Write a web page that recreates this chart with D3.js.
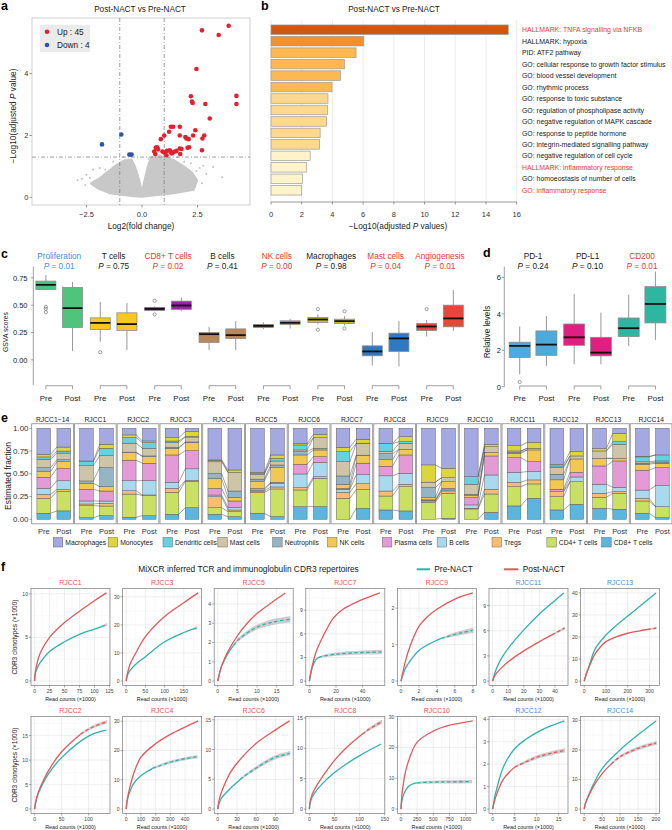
<!DOCTYPE html>
<html><head><meta charset="utf-8">
<script src="https://d3js.org/d3.v7.min.js"></script>
<style>html,body{margin:0;padding:0;background:#fff;}svg{display:block;}</style>
</head><body>
<svg id="fig" width="672" height="830" xmlns="http://www.w3.org/2000/svg"></svg>
<script>
// ================= DATA =================
// --- a: volcano plot ---
const volcanoUp = [[2.7,5.4],[3.9,5.55],[3.45,5.25],[2.45,4.15],[2.2,3.27],[2.25,3.1],[2.28,3.05],[2.85,3.02],[4.25,3.28],[4.25,3.02],[3.05,2.55],
 [1.3,2.28],[1.4,2.28],[1.7,2.28],[1.22,2.12],[2.4,2.17],[1.0,2.0],[0.85,1.88],[1.7,2.0],[1.95,1.95],[2.0,1.9],[2.1,1.88],[2.3,2.0],[2.72,1.9],[2.8,2.0],
 [0.62,1.6],[0.68,1.62],[0.72,1.55],[0.55,1.48],[0.6,1.4],[0.92,1.48],[1.0,1.45],[1.12,1.5],[1.25,1.52],[1.3,1.45],[1.35,1.42],[1.45,1.47],[1.7,1.58],[1.78,1.56],[1.72,1.4],[2.05,1.6],[2.12,1.62],[2.7,1.52],[1.1,1.36],[1.55,1.5]];
const volcanoDown = [[-1.8,1.71],[-0.93,2.03],[-0.57,1.38],[-0.47,1.38]];
const volcanoNSOutline = [[0,0.02],[-0.38,0.03],[-1.44,0.13],[-2.0,0.29],[-2.3,0.45],[-1.87,0.63],[-1.59,0.8],[-1.14,1.05],[-0.77,1.2],[-0.47,1.22],[-0.32,1.0],[-0.12,0.55],[0,0.15],[0.11,0.55],[0.3,1.1],[0.45,1.3],[0.98,1.32],[1.43,1.2],[1.88,1.0],[2.25,0.8],[2.48,0.55],[2.33,0.24],[1.43,0.13],[0.2,0.03]];
const volcanoNSScatter = [[-2.5,0.73],[-2.7,0.6],[-2.2,0.9],[-1.9,0.95],[-0.5,1.35],[0.55,1.35],[1.05,1.38],[2.6,0.95],[2.75,1.02],[3.2,0.98],[3.6,0.65],[2.9,0.75],[-2.9,0.55],[1.6,1.3],[2.2,1.1],[-1.3,1.15],[0.8,1.36],[-2.55,0.4],[2.7,0.45],[-2.35,0.62],[-1.65,0.9],[1.9,1.15],[2.45,0.85],[-0.85,1.3],[0.3,1.25]];
const volcanoFCCut = [-1, 1];
const volcanoPCut = 1.3;
const volcanoXTicks = [-2.5, 0, 2.5];
const volcanoYTicks = [0, 2, 4];

// --- b: enrichment ---
const enrichTerms = ["HALLMARK: TNFA signalling via NFKB","HALLMARK: hypoxia","PID: ATF2 pathway","GO: cellular response to growth factor stimulus","GO: blood vessel development","GO: rhythmic process","GO: response to toxic substance","GO: regulation of phospholipase activity","GO: negative regulation of MAPK cascade","GO: response to peptide hormone","GO: integrin-mediated signalling pathway","GO: negative regulation of cell cycle","HALLMARK: inflammatory response","GO: homoeostasis of number of cells","GO: inflammatory response"];
const enrichValues = [15.45,6.04,5.54,4.78,4.52,3.97,3.71,3.67,3.62,3.2,3.16,2.55,2.3,2.05,2.0];
const enrichHighlight = ["HALLMARK: TNFA signalling via NFKB","HALLMARK: inflammatory response","GO: inflammatory response"];
const enrichTicks = [0,2,4,6,8,10,12,14,16];

// --- c: GSVA scores (whisker low, q1, median, q3, whisker high) ---
const gsvaCategories = ["Proliferation","T cells","CD8+ T cells","B cells","NK cells","Macrophages","Mast cells","Angiogenesis"];
const gsvaP = ["0.01","0.75","0.02","0.41","0.00","0.98","0.04","0.01"];
const gsvaPre = [[0.64,0.644,0.686,0.72,0.775],[0.165,0.278,0.338,0.384,0.53],[0.445,0.452,0.467,0.479,0.49],[0.089,0.159,0.235,0.25,0.302],[0.28,0.296,0.311,0.324,0.342],[0.324,0.342,0.369,0.388,0.415],[-0.052,0.037,0.077,0.128,0.253],[0.214,0.269,0.305,0.333,0.363]];
const gsvaPost = [[0.08,0.296,0.473,0.662,0.713],[0.089,0.269,0.327,0.43,0.52],[0.445,0.461,0.497,0.537,0.571],[0.089,0.195,0.226,0.283,0.354],[0.287,0.324,0.339,0.357,0.375],[0.315,0.333,0.354,0.372,0.4],[-0.061,0.077,0.196,0.244,0.354],[0.265,0.302,0.379,0.5,0.638]];
const gsvaPreOut = [[0.485,0.467,0.436],[0.07],[0.54,0.415],[],[],[0.464,0.275],[],[0.464]];
const gsvaPostOut = [[],[],[],[],[],[0.445,0.287],[],[]];
const gsvaTicks = [0,0.25,0.5,0.75];

// --- d: immune checkpoint levels ---
const immuneGenes = ["PD-1","PD-L1","CD200"];
const immuneP = ["0.24","0.10","0.01"];
const immunePre = [[0.68,1.6,2.24,2.44,3.3],[1.23,2.27,2.71,3.44,5.09],[2.24,2.75,3.21,3.77,5.04]];
const immunePost = [[1.14,1.72,2.31,3.06,3.88],[1.23,1.69,1.87,2.71,4.07],[2.57,3.5,4.54,5.49,6.32]];
const immunePreOut = [[0.26],[],[]];
const immunePostOut = [[],[],[]];
const immuneTicks = [0,2,4,6];

// --- e: estimated fractions (percent; order = cellTypes) ---
const cellTypes = ["Macrophages","Monocytes","Dendritic cells","Mast cells","Neutrophils","NK cells","Plasma cells","B cells","Tregs","CD4+ T cells","CD8+ T cells"];
const samples = ["RJCC1\u221214","RJCC1","RJCC2","RJCC3","RJCC4","RJCC5","RJCC6","RJCC7","RJCC8","RJCC9","RJCC10","RJCC11","RJCC12","RJCC13","RJCC14"];
const fracPre = [
 [28.6,2.9,2.6,9.2,4.4,6.2,12.1,6.6,4.4,16.5,6.6],
 [35.9,0.7,4.4,16.8,2.6,6.6,12.8,3.3,1.8,13.2,1.8],
 [7.3,2.9,6.2,9.9,0.5,8.4,22.7,11,3.7,25.6,2.2],
 [10.3,3.7,1.8,5.1,1.1,7.3,30,6.6,4.4,24.2,5.5],
 [34.8,0.3,1.8,12.8,5.5,11,7.3,1.8,12.1,7.3,5.5],
 [48.7,1.5,0.5,5.5,2.2,8.1,1.8,1.1,1.5,23.1,6.6],
 [16.5,1.8,5.5,1.8,3.7,10.3,10.6,15,2.6,18.3,13.9],
 [20.9,4.8,11,15.8,9.2,4.4,1.1,3.3,6.6,23.1,0],
 [16.5,0.5,8.4,2.6,6.6,7.3,10.6,16.8,5.5,15.4,10.3],
 [40.3,19,0,5.9,11,2.6,0.5,0.7,1.5,18.7,0],
 [53.1,0,8.4,11,1.5,2.2,8.1,3.7,0.7,11.4,0],
 [19,5.9,0,1.3,1.3,4.8,16.1,11,4.8,21.2,14.7],
 [39.6,1.8,1.8,7.3,6.2,10.3,2.6,0,5.5,14.7,10.3],
 [22,2.9,0,8.1,0,8.4,20.1,9.9,4.4,12.1,12.1],
 [31.1,0.5,5.5,1.5,1.1,6.6,22,9.2,2.9,13.6,6.6]];
const fracPost = [
 [20.5,4.4,2.2,7.3,2.2,7.3,13.5,9.5,2.2,21.2,9.2],
 [17.6,4.4,8.1,13.2,20.9,4.8,11,2.6,2.9,10.6,4],
 [13.9,1.8,6.2,8.4,0.7,7.3,19,15.8,0.7,22,4],
 [3.7,5.5,0.5,5.5,0.5,9.2,20.1,12.8,1.1,29.3,12.8],
 [45.8,2.6,0,20.5,7,4,7,2.9,1.8,5.5,2.9],
 [29.3,3.7,2.9,4.4,2.9,16.1,1.1,4,2.2,30.4,2.9],
 [6.6,3.7,0,11.7,1.8,7.3,6.2,15.8,1.8,31.1,13.9],
 [12.1,4.4,0.5,12.8,0.5,8.4,12.8,9.9,6.6,20.9,12.1],
 [9.2,5.5,1.8,6.6,0,6.2,20.1,12.1,2.6,26.7,9.2],
 [44,10.3,0,4.4,0,7.3,1.8,1.1,2.6,27.5,1.1],
 [17.6,2.6,0,6.2,0,4,20.9,15.8,5.1,20.1,7.7],
 [15.4,6.6,0,1.8,0,12.8,11,9.2,4.4,15.8,23.1],
 [25.6,4.8,0,3.3,0,14.7,5.1,5.1,0,24.9,16.5],
 [5.5,9.2,2.9,15.4,0,2.9,28.9,4.8,1.8,17.6,11],
 [29.3,0,6.6,1.3,1.3,4.8,19.8,23.1,0,12.1,1.8]];
const fracTicks = [0,0.25,0.5,0.75,1];

// --- f: rarefaction curves [read counts (x1000), clonotypes (x1000), band half-width] ---
const rarefaction = [
 {sample:"RJCC1", group:"up", pre:[[0,0],[1,0.85],[5,1.6],[10,2.2],[25,3.4],[50,4.5],[75,5.35],[100,5.95],[112,6.25]], preExt:[[112,6.25,0],[120,6.45,0.08]], post:[[0,0],[1,0.9],[5,2.3],[10,3.3],[25,5.0],[50,6.7],[75,8.0],[100,9.2],[120,10.1]], postExt:[], xTicks:[0,25,50,75,100,125], yTicks:[0,5,10]},
 {sample:"RJCC3", group:"up", pre:[[0,0],[2,1.5],[10,3.8],[25,6],[50,8.7],[100,14],[150,17.3],[175,18.6]], preExt:[[175,18.6,0],[183,18.9,0.3]], post:[[0,0],[2,1.8],[10,6],[25,10],[50,15.8],[100,23],[150,27.9],[187,31.4]], postExt:[], xTicks:[0,50,100,150], yTicks:[0,10,20,30]},
 {sample:"RJCC5", group:"up", pre:[[0,0],[0.5,0.45],[1,0.78],[2.5,1.4],[4,1.85]], preExt:[[4,1.85,0],[5,2.1,0.03],[7.5,2.5,0.06],[10,2.8,0.08],[12.5,2.98,0.1],[15,3.1,0.11],[18.3,3.2,0.12]], post:[[0,0],[0.5,0.45],[1,0.8],[2.5,1.5],[5,2.35],[7.5,3.0],[10,3.5],[15,4.25],[17.2,4.57]], postExt:[], xTicks:[0,5,10,15], yTicks:[0,1,2,3,4]},
 {sample:"RJCC7", group:"up", pre:[[0,0],[1,0.9],[2.5,1.9],[5,2.75],[7,3.0]], preExt:[[7,3.0,0],[10,3.15,0.05],[20,3.42,0.1],[30,3.55,0.14],[40,3.63,0.16],[54,3.7,0.18]], post:[[0,0],[1,1.0],[2.5,2.2],[5,3.7],[10,5.6],[18,8.0],[25,9.1],[35,10.0],[45,10.7],[53,11.2]], postExt:[], xTicks:[0,20,40], yTicks:[0,3,6,9]},
 {sample:"RJCC9", group:"up", pre:[[0,0],[0.5,0.35],[1,0.55],[2,0.84],[3,1.0],[4,1.12],[4.5,1.17]], preExt:[[4.5,1.17,0],[6,1.28,0.03],[7,1.34,0.04],[8,1.39,0.05]], post:[[0,0],[0.5,0.55],[1,0.95],[2,1.5],[3,1.78],[4,1.97],[6,2.25],[8,2.42]], postExt:[], xTicks:[0,2,4,6,8], yTicks:[0,1,2]},
 {sample:"RJCC11", group:"down", pre:[[0,0],[1,0.7],[2.5,1.5],[5,2.5],[10,3.9],[20,6.1],[30,8.0],[40,9.6],[45.5,10.5]], preExt:[], post:[[0,0],[1,0.5],[2.5,0.95],[5,1.45],[10,2.3],[20,3.6],[30,4.7],[38,5.5]], postExt:[[38,5.5,0],[46,6.3,0.06]], xTicks:[0,10,20,30,40], yTicks:[0,3,6,9]},
 {sample:"RJCC13", group:"down", pre:[[0,0],[5,1.8],[10,3.5],[25,7.5],[50,14.5],[100,20.9],[150,25.5],[200,29.5],[250,33.5],[330,40]], preExt:[], post:[[0,0],[5,1.7],[10,3.2],[25,7],[50,12.3],[100,17.9],[150,20.2],[200,21.7],[250,22.7],[290,23.4]], postExt:[[290,23.4,0],[330,24,0.2]], xTicks:[0,100,200,300], yTicks:[0,10,20,30,40]},
 {sample:"RJCC2", group:"up", pre:[[0,0],[1,0.75],[2.5,1.6],[5,2.6],[10,4.0],[25,7.1],[50,10.5],[100,14.9],[133,16.1]], preExt:[], post:[[0,0],[1,0.8],[2.5,1.7],[5,2.8],[10,4.3],[25,7.7],[50,11.7],[85,15.3]], postExt:[[85,15.3,0],[100,16.3,0.1],[115,17.1,0.15],[133,17.8,0.2]], xTicks:[0,50,100], yTicks:[0,5,10,15]},
 {sample:"RJCC4", group:"up", pre:[[0,0],[5,2.3],[10,3.5],[25,6],[50,8.7],[100,11.4],[180,13.9]], preExt:[[180,13.9,0],[200,14.3,0.1],[300,16,0.2],[400,17.2,0.25],[479,17.8,0.3]], post:[[0,0],[5,2.5],[10,4],[25,7.5],[50,12],[100,17.7],[200,22.3],[300,25.5],[400,28.0],[488,30.1]], postExt:[], xTicks:[0,100,200,300,400], yTicks:[0,10,20,30]},
 {sample:"RJCC6", group:"up", pre:[[0,0],[1,0.6],[2.5,1.1],[5,1.7],[10,2.4],[20,3.5],[30,4.5],[35,4.95]], preExt:[[35,4.95,0],[40,5.4,0.05],[50,6.2,0.1],[60,6.9,0.14],[75,7.9,0.18],[90,8.7,0.2],[112,9.35,0.24]], post:[[0,0],[1,0.9],[2.5,1.7],[5,2.6],[10,4],[20,6.2],[30,7.7],[60,11.05],[90,13.3],[112,14.8]], postExt:[], xTicks:[0,30,60,90], yTicks:[0,5,10,15]},
 {sample:"RJCC8", group:"up", pre:[[0,0],[1,0.8],[2.5,1.3],[5,1.9],[10,2.6],[25,4.1],[50,6],[75,7.5],[100,8.8],[143,10.7]], preExt:[], post:[[0,0],[1,0.9],[2.5,1.6],[5,2.3],[10,3.2],[25,5.2],[50,8],[75,10.2],[105,12.3]], postExt:[[105,12.3,0],[120,13.2,0.12],[143,14.3,0.2]], xTicks:[0,50,100,150], yTicks:[0,5,10,15]},
 {sample:"RJCC10", group:"up", pre:[[0,0],[10,2.2],[25,3.6],[50,5.2],[100,7.0],[150,7.9],[200,8.3],[250,8.5]], preExt:[[250,8.5,0],[400,8.7,0.2],[600,8.8,0.25],[800,8.85,0.28],[1088,8.9,0.3]], post:[[0,0],[10,3.5],[25,6.5],[50,10],[100,14.5],[250,21.7],[500,25.3],[750,27.2],[1000,28.2],[1110,28.6]], postExt:[], xTicks:[0,250,500,750,1000], yTicks:[0,10,20,30]},
 {sample:"RJCC12", group:"down", pre:[[0,0],[0.5,0.55],[1,0.95],[2.5,1.9],[5,2.69],[7.5,3.1],[10,3.41],[12.5,3.65],[16.3,3.93]], preExt:[], post:[[0,0],[0.5,0.4],[1,0.7],[2.5,1.35],[5,1.87]], postExt:[[5,1.87,0],[7.5,2.1,0.03],[10,2.31,0.04],[12.5,2.45,0.05],[16.3,2.62,0.06]], xTicks:[0,5,10,15], yTicks:[0,1,2,3,4]},
 {sample:"RJCC14", group:"down", pre:[[0,0],[2.5,1.5],[5,2.5],[10,4],[25,8.2],[50,13.7],[100,20],[150,25.1],[200,29.8]], preExt:[], post:[[0,0],[2.5,1.5],[5,2.4],[10,3.8],[25,7.5],[50,12],[75,15.2]], postExt:[[75,15.2,0],[100,17.7,0.2],[150,20.5,0.3],[200,22.3,0.35]], xTicks:[0,50,100,150,200], yTicks:[0,10,20,30]}
];

// ================= DRAWING =================
const svg = d3.select("#fig").style("font-family", '"Liberation Sans", Arial, Helvetica, sans-serif');
const INK = "#1a1a1a", RED_T = "#e8392f", BLUE_T = "#3f8fdc";

// font sizes fitted to the text widths seen in the reference
const meas = svg.append("text").attr("font-size", 10).attr("x", 10).attr("y", 10).attr("opacity", 0);
function fit(str, w) { meas.text(str); const l = meas.node().getComputedTextLength(); return l > 0 ? 10 * w / l : 8; }
const FS = {
  title: fit("Post-NACT vs Pre-NACT", 92),
  axlab: fit("Log2(fold change)", 66.7),
  aylab: fit("\u2212Log10(adjusted P value)", 95),
  aleg: fit("Down : 4", 32.7),
  blab: fit("GO: cellular response to growth factor stimulus", 144),
  bxlab: fit("\u2212Log10(adjusted P values)", 98.3),
  tick: fit("0.75", 14.6),
  ctitle: fit("Proliferation", 44),
  prepost: fit("Post", 16),
  gsva: fit("GSVA scores", 40),
  dlab: fit("Relative levels", 52.7),
  efacet: fit("RJCC1\u221214", 33.3),
  eleg: fit("Macrophages", 41),
  epp: fit("Post", 15),
  efrac: fit("Estimated fraction", 68),
  etick: fit("1.00", 15.5),
  ftitle: fit("MiXCR inferred TCR and immunoglobulin CDR3 repertoires", 221),
  ffacet: fit("RJCC11", 25.7),
  fxlab: fit("Read counts (\u00d71000)", 50.7),
  fylab: fit("CDR3 clonotypes (\u00d71000)", 75),
  ftick: fit("100", 8.5)
};
meas.remove();

function txt(g, x, y, s, o = {}) {
  const t = g.append("text").attr("x", x).attr("y", y).text(s)
    .attr("font-size", o.size || 8).attr("fill", o.fill || INK)
    .attr("text-anchor", o.anchor || "start");
  if (o.weight) t.attr("font-weight", o.weight);
  if (o.rotate) t.attr("transform", `rotate(-90,${x},${y})`);
  return t;
}
function rich(g, x, y, parts, o = {}) {
  const t = g.append("text").attr("x", x).attr("y", y)
    .attr("font-size", o.size || 8).attr("fill", o.fill || INK)
    .attr("text-anchor", o.anchor || "start");
  if (o.rotate) t.attr("transform", `rotate(-90,${x},${y})`);
  parts.forEach(p => { const s = t.append("tspan").text(p[0]); if (p[1]) s.attr("font-style", "italic"); });
  return t;
}
const minus = v => String(v).replace("-", "\u2212");

// panel letters
[["a",1,10],["b",261,10],["c",1,258],["d",483,257],["e",1,422],["f",1,571]].forEach(d => txt(svg, d[1], d[2], d[0], {size: 12.5, weight: "bold", fill: "#000"}));

// ---------- a ----------
(function () {
  const g = svg.append("g");
  const L = 32, R = 250, T = 18, B = 205;
  const x = d3.scaleLinear().domain([-4.95, 4.86]).range([L, R]);
  const y = d3.scaleLinear().domain([-0.25, 5.8]).range([B, T]);
  g.append("rect").attr("x", L).attr("y", T).attr("width", R - L).attr("height", B - T).attr("fill", "#fff").attr("stroke", "#c4c4c4").attr("stroke-width", 0.8);
  g.append("path").datum(volcanoNSOutline)
    .attr("d", d3.line().x(d => x(d[0])).y(d => y(d[1])).curve(d3.curveLinearClosed))
    .attr("fill", "#c8c8c8").attr("stroke", "#c8c8c8").attr("stroke-width", 2).attr("stroke-linejoin", "round");
  g.selectAll(null).data(volcanoNSScatter).join("circle").attr("cx", d => x(d[0])).attr("cy", d => y(d[1])).attr("r", 1).attr("fill", "#c2c2c2");
  volcanoFCCut.forEach(v => g.append("line").attr("x1", x(v)).attr("x2", x(v)).attr("y1", T).attr("y2", B)
    .attr("stroke", "#777").attr("stroke-width", 0.7).attr("stroke-dasharray", "4,2,1,2"));
  g.append("line").attr("x1", L).attr("x2", R).attr("y1", y(volcanoPCut)).attr("y2", y(volcanoPCut))
    .attr("stroke", "#777").attr("stroke-width", 0.7).attr("stroke-dasharray", "4,2,1,2");
  g.selectAll(null).data(volcanoDown).join("circle").attr("cx", d => x(d[0])).attr("cy", d => y(d[1])).attr("r", 2.3).attr("fill", "#2a55a8");
  g.selectAll(null).data(volcanoUp).join("circle").attr("cx", d => x(d[0])).attr("cy", d => y(d[1])).attr("r", 2.3).attr("fill", "#e3202e");
  // legend
  g.append("rect").attr("x", 40).attr("y", 25).attr("width", 50).attr("height", 27).attr("fill", "#ebebeb");
  g.append("circle").attr("cx", 47).attr("cy", 31.7).attr("r", 2.3).attr("fill", "#e3202e");
  g.append("circle").attr("cx", 47).attr("cy", 45).attr("r", 2.3).attr("fill", "#2a55a8");
  txt(g, 57, 34.6, `Up : ${volcanoUp.length}`, {size: FS.aleg});
  txt(g, 57, 47.9, `Down : ${volcanoDown.length}`, {size: FS.aleg});
  // axes
  volcanoXTicks.forEach(t => {
    g.append("line").attr("x1", x(t)).attr("x2", x(t)).attr("y1", B).attr("y2", B + 2.5).attr("stroke", "#555").attr("stroke-width", 0.6);
    txt(g, x(t), 217, minus(t.toFixed(1)), {size: FS.tick, anchor: "middle", fill: "#333"});
  });
  volcanoYTicks.forEach(t => {
    g.append("line").attr("x1", L - 2.5).attr("x2", L).attr("y1", y(t)).attr("y2", y(t)).attr("stroke", "#555").attr("stroke-width", 0.6);
    txt(g, 28.5, y(t) + 2.8, t, {size: FS.tick, anchor: "end", fill: "#333"});
  });
  txt(g, 140, 12, "Post-NACT vs Pre-NACT", {size: FS.title, anchor: "middle"});
  txt(g, 141, 229, "Log2(fold change)", {size: FS.axlab, anchor: "middle"});
  rich(g, 15.5, 116, [["\u2212Log10(adjusted "], ["P", true], [" value)"]], {size: FS.aylab, anchor: "middle", rotate: true});
})();

// ---------- b ----------
(function () {
  const g = svg.append("g");
  const x = d3.scaleLinear().domain([0, 16]).range([271, 516.7]);
  const y = d3.scaleBand().domain(enrichTerms).range([23, 197]).padding(0.17);
  const col = d3.scaleThreshold().domain([2.9, 3.85, 5.8, 10]).range(["#fff4c9", "#fed98d", "#fdb852", "#f48f2b", "#d4550c"]);
  enrichTicks.forEach(t => g.append("line").attr("x1", x(t)).attr("x2", x(t)).attr("y1", 20).attr("y2", 202).attr("stroke", "#e3e3e3").attr("stroke-width", 0.7));
  g.selectAll(null).data(enrichTerms).join("rect")
    .attr("x", x(0)).attr("y", d => y(d)).attr("height", y.bandwidth())
    .attr("width", (d, i) => x(enrichValues[i]) - x(0))
    .attr("fill", (d, i) => col(enrichValues[i])).attr("stroke", "#9c9c9c").attr("stroke-width", 0.7);
  g.append("line").attr("x1", x(0)).attr("x2", x(16)).attr("y1", 202).attr("y2", 202).attr("stroke", "#555").attr("stroke-width", 0.6);
  enrichTicks.forEach(t => {
    g.append("line").attr("x1", x(t)).attr("x2", x(t)).attr("y1", 202).attr("y2", 204.5).attr("stroke", "#555").attr("stroke-width", 0.6);
    txt(g, x(t), 217, t, {size: FS.tick, anchor: "middle", fill: "#333"});
  });
  enrichTerms.forEach(t => txt(g, 522, y(t) + y.bandwidth() / 2 + 2.6, t, {size: FS.blab, fill: enrichHighlight.includes(t) ? "#ec3b32" : INK}));
  txt(g, 394, 12, "Post-NACT vs Pre-NACT", {size: FS.title, anchor: "middle"});
  rich(g, 398, 229, [["\u2212Log10(adjusted "], ["P", true], [" values)"]], {size: FS.bxlab, anchor: "middle"});
})();

// ---------- box helper ----------
function drawBox(g, cx, w, s, outs, y, fill) {
  const st = "#8c8c8c";
  g.append("line").attr("x1", cx).attr("x2", cx).attr("y1", y(s[0])).attr("y2", y(s[1])).attr("stroke", st).attr("stroke-width", 0.9);
  g.append("line").attr("x1", cx).attr("x2", cx).attr("y1", y(s[3])).attr("y2", y(s[4])).attr("stroke", st).attr("stroke-width", 0.9);
  g.append("rect").attr("x", cx - w / 2).attr("y", y(s[3])).attr("width", w).attr("height", Math.max(0.5, y(s[1]) - y(s[3])))
    .attr("fill", fill).attr("stroke", st).attr("stroke-width", 0.8);
  g.append("line").attr("x1", cx - w / 2).attr("x2", cx + w / 2).attr("y1", y(s[2])).attr("y2", y(s[2])).attr("stroke", "#111").attr("stroke-width", 1.8);
  outs.forEach(o => g.append("circle").attr("cx", cx).attr("cy", y(o)).attr("r", 1.6).attr("fill", "none").attr("stroke", "#666").attr("stroke-width", 0.6));
}
function boxPanel(cfg) {
  const g = svg.append("g");
  const outer = d3.scaleBand().domain(cfg.cats).range([cfg.x0, cfg.x0 + cfg.step * cfg.cats.length]);
  const inner = d3.scalePoint().domain(["Pre", "Post"]).range([0, outer.step()]).padding(0.52);
  const y = cfg.y;
  g.append("line").attr("x1", cfg.axisX).attr("x2", cfg.axisX).attr("y1", cfg.axisTop).attr("y2", cfg.axisBottom).attr("stroke", "#777").attr("stroke-width", 0.7);
  cfg.ticks.forEach(t => {
    g.append("line").attr("x1", cfg.axisX - 2.5).attr("x2", cfg.axisX).attr("y1", y(t)).attr("y2", y(t)).attr("stroke", "#777").attr("stroke-width", 0.7);
    txt(g, cfg.tickX, y(t) + 2.8, cfg.fmt(t), {size: FS.tick, anchor: "end", fill: "#222"});
  });
  txt(g, cfg.labelX, cfg.labelY, cfg.label, {size: cfg.labelSize, anchor: "middle", rotate: true});
  cfg.cats.forEach((c, i) => {
    const xp = outer(c) + inner("Pre"), xq = outer(c) + inner("Post");
    drawBox(g, xp, cfg.boxW, cfg.pre[i], cfg.preOut[i], y, cfg.fill[c][0]);
    drawBox(g, xq, cfg.boxW, cfg.post[i], cfg.postOut[i], y, cfg.fill[c][1]);
    const by = cfg.bracketY;
    g.append("path").attr("d", `M${xp},${by + 3.5}V${by}H${xq}V${by + 3.5}`).attr("fill", "none").attr("stroke", "#777").attr("stroke-width", 0.7);
    txt(g, xp, 401, "Pre", {size: FS.prepost, anchor: "middle", fill: "#222"});
    txt(g, xq, 401, "Post", {size: FS.prepost, anchor: "middle", fill: "#222"});
    const cx = (xp + xq) / 2, colr = cfg.titleColor[c] || INK;
    txt(g, cx, 259, c, {size: FS.ctitle, anchor: "middle", fill: colr});
    rich(g, cx, 268.8, [["P", true], [" = " + cfg.p[i]]], {size: FS.ctitle, anchor: "middle", fill: colr});
  });
}

// ---------- c ----------
boxPanel({
  cats: gsvaCategories, p: gsvaP, pre: gsvaPre, post: gsvaPost, preOut: gsvaPreOut, postOut: gsvaPostOut,
  x0: 32, step: 54.4, boxW: 20,
  y: d3.scaleLinear().domain([-0.23, 0.85]).range([385, 266.9]),
  axisX: 33.3, axisTop: 266.7, axisBottom: 385, ticks: gsvaTicks, tickX: 27.5, fmt: t => t.toFixed(2),
  label: "GSVA scores", labelX: 7.5, labelY: 332, labelSize: FS.gsva, bracketY: 385.7,
  fill: {"Proliferation": ["#4fc47d", "#4fc47d"], "T cells": ["#f8c81f", "#f8c81f"], "CD8+ T cells": ["#5b1a5d", "#9a24a6"], "B cells": ["#b8875b", "#b8875b"], "NK cells": ["#9a5c1c", "#f28b1c"], "Macrophages": ["#c9c41f", "#c9c41f"], "Mast cells": ["#2f78c2", "#2f78c2"], "Angiogenesis": ["#e9463a", "#e9463a"]},
  titleColor: {"Proliferation": BLUE_T, "CD8+ T cells": RED_T, "NK cells": RED_T, "Mast cells": RED_T, "Angiogenesis": RED_T}
});

// ---------- d ----------
boxPanel({
  cats: immuneGenes, p: immuneP, pre: immunePre, post: immunePost, preOut: immunePreOut, postOut: immunePostOut,
  x0: 505.8, step: 54.5, boxW: 21,
  y: d3.scaleLinear().domain([0, 6.6]).range([386.7, 266.4]),
  axisX: 504.3, axisTop: 266.7, axisBottom: 386.7, ticks: immuneTicks, tickX: 501, fmt: t => t,
  label: "Relative levels", labelX: 490, labelY: 332, labelSize: FS.dlab, bracketY: 386,
  fill: {"PD-1": ["#4aabdc", "#4aabdc"], "PD-L1": ["#e01f82", "#e01f82"], "CD200": ["#2db7a3", "#2db7a3"]},
  titleColor: {"CD200": RED_T}
});

// ---------- e ----------
(function () {
  const g = svg.append("g");
  const cellColor = {"Macrophages": "#a4a9e2", "Monocytes": "#dcd53c", "Dendritic cells": "#62d3df", "Mast cells": "#cec4a6", "Neutrophils": "#95b4c5",
    "NK cells": "#f2c851", "Plasma cells": "#e39ad7", "B cells": "#a9d9ef", "Tregs": "#f9bd72", "CD4+ T cells": "#c9e062", "CD8+ T cells": "#5bb5dd"};
  const fx = d3.scaleBand().domain(samples).range([31.7, 672]).paddingInner(0.025);
  const bw = fx.bandwidth();
  const bx = d3.scaleBand().domain(["Pre", "Post"]).range([0, bw]).paddingInner(0.32).paddingOuter(0.2).align(0.65);
  const y = d3.scaleLinear().domain([0, 1]).range([519.3, 428.3]);
  const order = cellTypes.map((c, i) => i).reverse(); // bottom -> top
  function stack(arr) {
    const tot = d3.sum(arr); let acc = 0;
    return order.map(k => { const s = {k, y0: acc / tot, y1: (acc + arr[k]) / tot}; acc += arr[k]; return s; });
  }
  samples.forEach((s, i) => {
    const gx = fx(s);
    g.append("rect").attr("x", gx).attr("y", y(1.05)).attr("width", bw).attr("height", y(-0.05) - y(1.05)).attr("fill", "#fff").attr("stroke", "#8a8a8a").attr("stroke-width", 0.8);
    const sp = stack(fracPre[i]), sq = stack(fracPost[i]);
    [["Pre", sp], ["Post", sq]].forEach(([lab, st]) => {
      st.forEach(seg => {
        if (seg.y1 - seg.y0 <= 0) return;
        g.append("rect").attr("x", gx + bx(lab)).attr("width", bx.bandwidth()).attr("y", y(seg.y1)).attr("height", y(seg.y0) - y(seg.y1))
          .attr("fill", cellColor[cellTypes[seg.k]]).attr("stroke", "#555").attr("stroke-width", 0.45);
      });
      txt(g, gx + bx(lab) + bx.bandwidth() / 2, 533.8, lab, {size: FS.epp, anchor: "middle", fill: "#333"});
    });
    for (let j = 0; j < order.length - 1; j++) {
      g.append("line").attr("x1", gx + bx("Pre") + bx.bandwidth()).attr("x2", gx + bx("Post"))
        .attr("y1", y(sp[j].y1)).attr("y2", y(sq[j].y1)).attr("stroke", "#4d4d4d").attr("stroke-width", 0.5);
    }
    txt(g, gx + bw / 2, 421.8, s, {size: FS.efacet, anchor: "middle", fill: "#222"});
  });
  fracTicks.forEach(t => {
    g.append("line").attr("x1", 29.5).attr("x2", 31.7).attr("y1", y(t)).attr("y2", y(t)).attr("stroke", "#555").attr("stroke-width", 0.6);
    txt(g, 28.5, y(t) + 2.6, t.toFixed(2), {size: FS.etick, anchor: "end", fill: "#333"});
  });
  txt(g, 10.5, 476, "Estimated fraction", {size: FS.efrac, anchor: "middle", rotate: true});
  cellTypes.forEach((c, i) => {
    const lx = 53.3 + i * 54.84;
    g.append("rect").attr("x", lx).attr("y", 537.5).attr("width", 9.5).attr("height", 9.5).attr("fill", cellColor[c]).attr("stroke", "#666").attr("stroke-width", 0.5);
    txt(g, lx + 12, 545.2, c, {size: FS.eleg, fill: "#222"});
  });
})();

// ---------- f ----------
(function () {
  const g = svg.append("g");
  const TEAL = "#2db3ae", RED = "#e5585a";
  txt(g, 248.5, 572, "MiXCR inferred TCR and immunoglobulin CDR3 repertoires", {size: FS.ftitle, anchor: "middle"});
  g.append("line").attr("x1", 416.7).attr("x2", 430).attr("y1", 569.3).attr("y2", 569.3).attr("stroke", TEAL).attr("stroke-width", 2);
  txt(g, 434.3, 572.2, "Pre-NACT", {size: FS.ftitle});
  g.append("line").attr("x1", 504).attr("x2", 518.3).attr("y1", 569.3).attr("y2", 569.3).attr("stroke", RED).attr("stroke-width", 2);
  txt(g, 522.7, 572.2, "Post-NACT", {size: FS.ftitle});
  const rowTop = [588.5, 716.5], W = 79, H = 97;
  rowTop.forEach(t => txt(g, 16.5, t + H / 2, "CDR3 clonotypes (\u00d71000)", {size: FS.fylab, anchor: "middle", rotate: true, fill: "#222"}));
  rarefaction.forEach((p, i) => {
    const row = Math.floor(i / 7), col = i % 7;
    const x0 = 31 + col * 91.6, y0 = rowTop[row];
    const pts = [...p.pre, ...p.preExt, ...p.post, ...p.postExt];
    const xmax = d3.max(pts, d => d[0]), ymax = d3.max(pts, d => d[1] + (d[2] || 0));
    const x = d3.scaleLinear().domain([-0.05 * xmax, 1.05 * xmax]).range([x0, x0 + W]);
    const y = d3.scaleLinear().domain([-0.05 * ymax, 1.05 * ymax]).range([y0 + H, y0]);
    const pg = g.append("g");
    pg.append("rect").attr("x", x0).attr("y", y0).attr("width", W).attr("height", H).attr("fill", "#fff");
    const inX = v => v >= x.domain()[0] - 1e-9 && v <= x.domain()[1] + 1e-9;
    const inY = v => v >= y.domain()[0] - 1e-9 && v <= y.domain()[1] + 1e-9;
    const minors = (tk, inDom) => { const st = tk[1] - tk[0], out = []; for (let v = tk[0] - st / 2; v < tk[tk.length - 1] + st; v += st) if (inDom(v)) out.push(v); return out; };
    minors(p.xTicks, inX).forEach(v => pg.append("line").attr("x1", x(v)).attr("x2", x(v)).attr("y1", y0).attr("y2", y0 + H).attr("stroke", "#efefef").attr("stroke-width", 0.4));
    minors(p.yTicks, inY).forEach(v => pg.append("line").attr("y1", y(v)).attr("y2", y(v)).attr("x1", x0).attr("x2", x0 + W).attr("stroke", "#efefef").attr("stroke-width", 0.4));
    const xt = p.xTicks.filter(inX), yt = p.yTicks.filter(inY);
    xt.forEach(v => pg.append("line").attr("x1", x(v)).attr("x2", x(v)).attr("y1", y0).attr("y2", y0 + H).attr("stroke", "#e2e2e2").attr("stroke-width", 0.6));
    yt.forEach(v => pg.append("line").attr("y1", y(v)).attr("y2", y(v)).attr("x1", x0).attr("x2", x0 + W).attr("stroke", "#e2e2e2").attr("stroke-width", 0.6));
    const cv = d3.curveCatmullRom.alpha(0.5);
    const area = d3.area().x(d => x(d[0])).y0(d => y(d[1] - d[2])).y1(d => y(d[1] + d[2])).curve(cv);
    const line = d3.line().x(d => x(d[0])).y(d => y(d[1])).curve(cv);
    [p.preExt, p.postExt].forEach(ext => {
      if (ext.length) pg.append("path").datum(ext).attr("d", area).attr("fill", "#cdcdcd").attr("stroke", "#cdcdcd").attr("stroke-width", 1.6);
    });
    [[p.pre, p.preExt, TEAL], [p.post, p.postExt, RED]].forEach(([obs, ext, c]) => {
      pg.append("path").datum(obs).attr("d", line).attr("fill", "none").attr("stroke", c).attr("stroke-width", 1.3);
      if (ext.length) pg.append("path").datum(ext).attr("d", line).attr("fill", "none").attr("stroke", c).attr("stroke-width", 1.3).attr("stroke-dasharray", "3.5,2.5");
    });
    pg.append("rect").attr("x", x0).attr("y", y0).attr("width", W).attr("height", H).attr("fill", "none").attr("stroke", "#8a8a8a").attr("stroke-width", 0.8);
    xt.forEach(v => {
      pg.append("line").attr("x1", x(v)).attr("x2", x(v)).attr("y1", y0 + H).attr("y2", y0 + H + 2).attr("stroke", "#555").attr("stroke-width", 0.5);
      txt(pg, x(v), y0 + H + 7.8, v, {size: FS.ftick, anchor: "middle", fill: "#444"});
    });
    yt.forEach(v => {
      pg.append("line").attr("x1", x0 - 2).attr("x2", x0).attr("y1", y(v)).attr("y2", y(v)).attr("stroke", "#555").attr("stroke-width", 0.5);
      txt(pg, x0 - 3, y(v) + 2, v, {size: FS.ftick, anchor: "end", fill: "#444"});
    });
    txt(pg, x0 + W / 2, y0 + H + 15, "Read counts (\u00d71000)", {size: FS.fxlab, anchor: "middle", fill: "#222"});
    txt(pg, x0 + W / 2, y0 - 3.5, p.sample, {size: FS.ffacet, anchor: "middle", fill: p.group === "up" ? "#e8534d" : "#4a8fd6"});
  });
})();

// lock every label to its laid-out width so the rendered glyphs match the measured metrics
svg.selectAll("text").each(function () {
  const l = this.getComputedTextLength();
  if (l > 0) d3.select(this).attr("textLength", l.toFixed(2)).attr("lengthAdjust", "spacingAndGlyphs");
});
</script>
</body></html>
